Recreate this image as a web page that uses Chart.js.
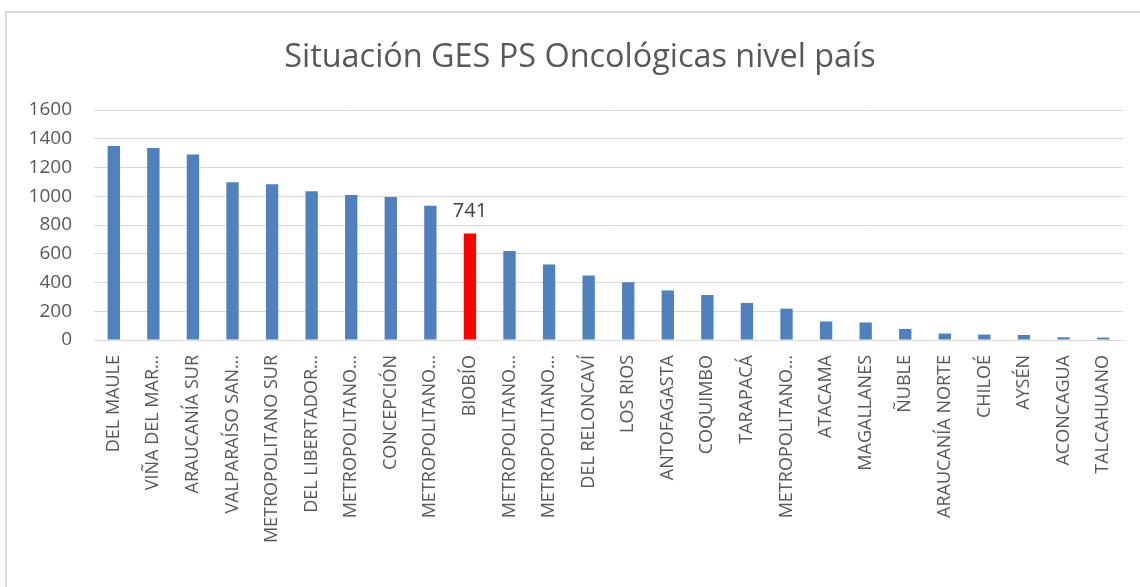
<!DOCTYPE html>
<html>
<head>
<meta charset="utf-8">
<script src="https://cdn.jsdelivr.net/npm/chart.js@4/dist/chart.umd.min.js"></script>
<style>
  html, body { margin: 0; padding: 0; background: #fff; }
  #wrap { position: relative; width: 1140px; height: 587px; overflow: hidden; }
  #frame { position: absolute; left: 5px; top: 11px; width: 1200px; height: 700px;
           border-left: 2px solid #d9d9d9; border-top: 2px solid #d9d9d9; }
  canvas { position: absolute; left: 0; top: 0; }
</style>
</head>
<body>
<div id="wrap">
  <div id="frame"></div>
  <canvas id="chart" width="1140" height="587"></canvas>
</div>
<script>
// Data
const titulo = 'Situación GES PS Oncológicas nivel país';
const servicios = [
    'DEL MAULE', 'VIÑA DEL MAR…', 'ARAUCANÍA SUR', 'VALPARAÍSO SAN…', 'METROPOLITANO SUR',
    'DEL LIBERTADOR…', 'METROPOLITANO…', 'CONCEPCIÓN', 'METROPOLITANO…', 'BIOBÍO',
    'METROPOLITANO…', 'METROPOLITANO…', 'DEL RELONCAVÍ', 'LOS RIOS', 'ANTOFAGASTA',
    'COQUIMBO', 'TARAPACÁ', 'METROPOLITANO…', 'ATACAMA', 'MAGALLANES',
    'ÑUBLE', 'ARAUCANÍA NORTE', 'CHILOÉ', 'AYSÉN', 'ACONCAGUA', 'TALCAHUANO'
];
const casos = [
    1350, 1335, 1290, 1098, 1083,
    1034, 1008, 995, 934, 741,
    619, 526, 449, 402, 345,
    313, 258, 218, 129, 122,
    77, 45, 38, 35, 19, 17
];
const yTicks = [0, 200, 400, 600, 800, 1000, 1200, 1400, 1600];
const destacado = 'BIOBÍO';

const AZUL = '#4f81bd';
const ROJO = '#ff0000';
const TEXTO = '#595959';

const colores = servicios.map(s => s === destacado ? ROJO : AZUL);

// Title centred on the whole chart frame (Excel style), drawn on the canvas
const tituloCentrado = {
    id: 'tituloCentrado',
    afterDraw(chart) {
        const ctx = chart.ctx;
        ctx.save();
        ctx.font = '32.4px "Open Sans"';
        ctx.fillStyle = TEXTO;
        ctx.textAlign = 'center';
        ctx.textBaseline = 'middle';
        ctx.fillText(titulo, 580, 58);
        ctx.restore();
    }
};

// Value label above the highlighted bar only
const etiquetaDestacada = {
    id: 'etiquetaDestacada',
    afterDatasetsDraw(chart) {
        const ctx = chart.ctx;
        const meta = chart.getDatasetMeta(0);
        const i = servicios.indexOf(destacado);
        const bar = meta.data[i];
        if (!bar) return;
        ctx.save();
        ctx.font = '20px "Open Sans"';
        ctx.fillStyle = '#404040';
        ctx.textAlign = 'center';
        ctx.textBaseline = 'bottom';
        ctx.fillText(String(casos[i]), bar.x, bar.y - 12);
        ctx.restore();
    }
};

const ctx = document.getElementById('chart').getContext('2d');
new Chart(ctx, {
    type: 'bar',
    data: {
        labels: servicios,
        datasets: [{
            data: casos,
            backgroundColor: colores,
            borderWidth: 0,
            barPercentage: 0.6,
            categoryPercentage: 0.52
        }]
    },
    options: {
        responsive: false,
        animation: false,
        layout: { padding: { left: 10, right: 16, top: 110, bottom: 0 } },
        plugins: {
            legend: { display: false },
            tooltip: { enabled: false },
            title: { display: false }
        },
        scales: {
            x: {
                grid: { display: false, drawTicks: false },
                border: { display: true, color: '#d9d9d9', width: 1 },
                ticks: {
                    color: TEXTO,
                    font: { family: '"Open Sans"', size: 18 },
                    maxRotation: 90,
                    minRotation: 90,
                    autoSkip: false,
                    padding: 15
                },
                afterFit(s) { s.height = 247; }
            },
            y: {
                min: 0,
                max: 1600,
                afterBuildTicks(s) { s.ticks = yTicks.map(v => ({ value: v })); },
                grid: { color: '#d9d9d9', lineWidth: 1, drawTicks: false },
                border: { display: false },
                ticks: {
                    color: TEXTO,
                    font: { family: '"Open Sans"', size: 19 },
                    padding: 22,
                    callback: v => String(v)
                },
                afterFit(s) { s.width = 84; }
            }
        }
    },
    plugins: [etiquetaDestacada, tituloCentrado]
});
</script>
</body>
</html>
